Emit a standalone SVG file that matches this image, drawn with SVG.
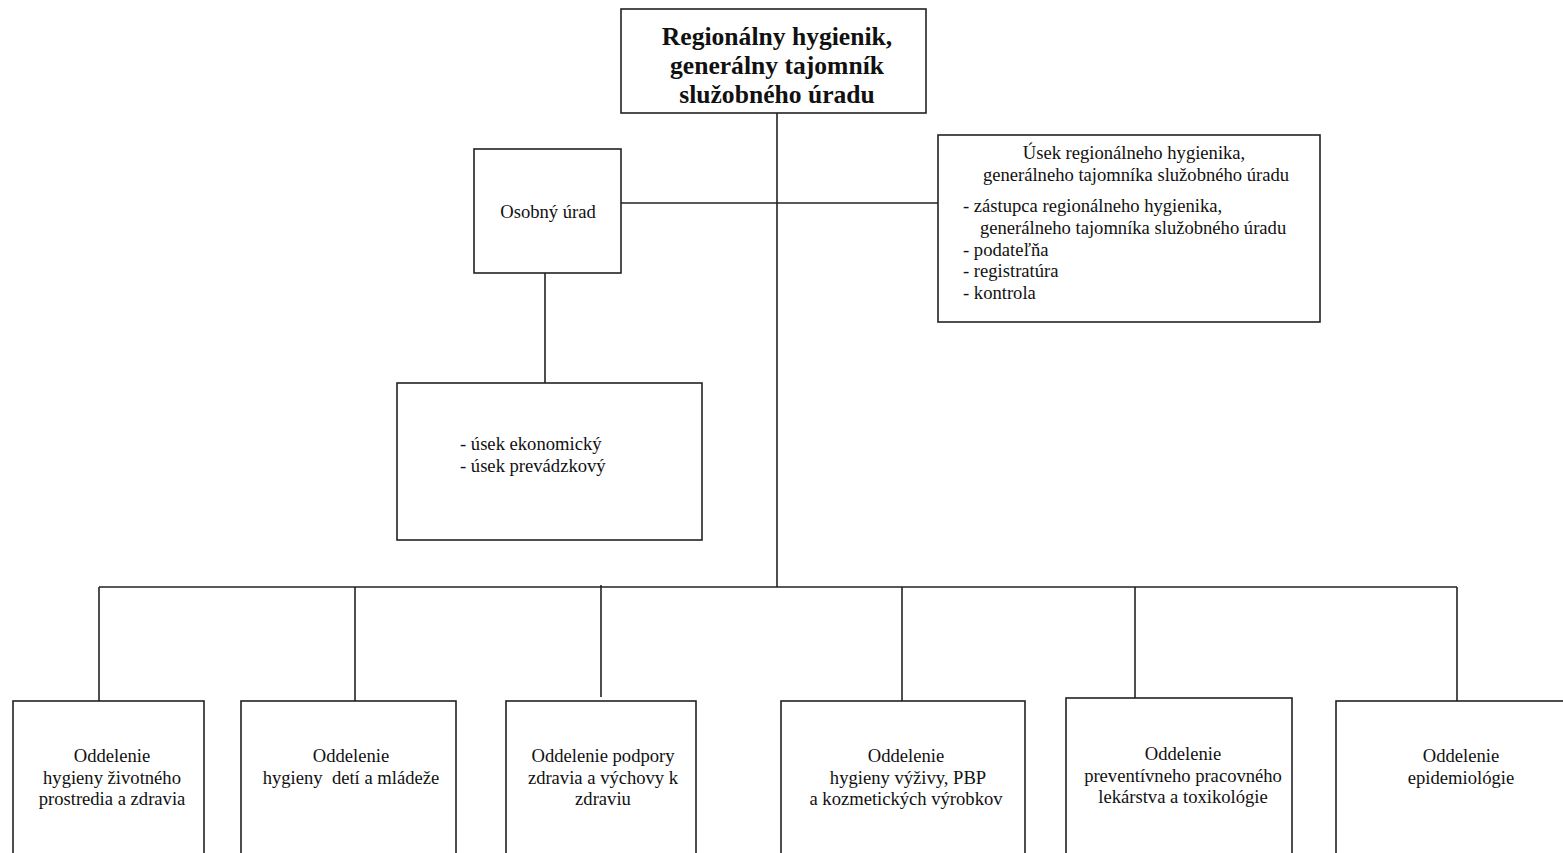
<svg xmlns="http://www.w3.org/2000/svg" width="1563" height="853" viewBox="0 0 1563 853">
<style>
.box{fill:#fff;stroke:#222;stroke-width:1.6}
.ln{fill:none;stroke:#222;stroke-width:1.6}
text{font-family:"Liberation Serif","Times New Roman",serif;font-size:18.6px;fill:#111}
.c{text-anchor:middle}
.h{font-size:25.6px;font-weight:bold}
</style>
<rect width="1563" height="853" fill="#fff"/>
<g id="connectors">
<line class="ln" x1="777" y1="113" x2="777" y2="587"/>
<line class="ln" x1="621" y1="203" x2="938" y2="203"/>
<line class="ln" x1="545" y1="273" x2="545" y2="383"/>
<line class="ln" x1="99" y1="587" x2="1457" y2="587"/>
<line class="ln" x1="99" y1="587" x2="99" y2="701"/>
<line class="ln" x1="355" y1="587" x2="355" y2="701"/>
<line class="ln" x1="601" y1="585" x2="601" y2="697"/>
<line class="ln" x1="902" y1="587" x2="902" y2="701"/>
<line class="ln" x1="1135" y1="587" x2="1135" y2="698"/>
<line class="ln" x1="1457" y1="587" x2="1457" y2="701"/>
</g>
<g id="top">
<rect class="box" x="621" y="9" width="305" height="104"/>
<text class="c h" x="777" y="45">Regionálny hygienik,</text>
<text class="c h" x="777" y="74">generálny tajomník</text>
<text class="c h" x="777" y="103">služobného úradu</text>
</g>
<g id="osobny">
<rect class="box" x="474" y="149" width="147" height="124"/>
<text class="c" x="548" y="218">Osobný úrad</text>
</g>
<g id="usek">
<rect class="box" x="938" y="135" width="382" height="187"/>
<text class="c" x="1134" y="159">Úsek regionálneho hygienika,</text>
<text class="c" x="1136" y="181">generálneho tajomníka služobného úradu</text>
<text x="963" y="212">- zástupca regionálneho hygienika,</text>
<text x="980" y="234">generálneho tajomníka služobného úradu</text>
<text x="963" y="256">- podateľňa</text>
<text x="963" y="277">- registratúra</text>
<text x="963" y="299">- kontrola</text>
</g>
<g id="ekon">
<rect class="box" x="397" y="383" width="305" height="157"/>
<text x="460" y="450">- úsek ekonomický</text>
<text x="460" y="472">- úsek prevádzkový</text>
</g>
<g id="odd1">
<rect class="box" x="13" y="701" width="191" height="160"/>
<text class="c" x="112" y="762">Oddelenie</text>
<text class="c" x="112" y="784">hygieny životného</text>
<text class="c" x="112" y="805">prostredia a zdravia</text>
</g>
<g id="odd2">
<rect class="box" x="241" y="701" width="215" height="160"/>
<text class="c" x="351" y="762">Oddelenie</text>
<text class="c" x="351" y="784" xml:space="preserve">hygieny  detí a mládeže</text>
</g>
<g id="odd3">
<rect class="box" x="506" y="701" width="190" height="160"/>
<text class="c" x="603" y="762">Oddelenie podpory</text>
<text class="c" x="603" y="784">zdravia a výchovy k</text>
<text class="c" x="603" y="805">zdraviu</text>
</g>
<g id="odd4">
<rect class="box" x="781" y="701" width="244" height="160"/>
<text class="c" x="906" y="762">Oddelenie</text>
<text class="c" x="908" y="784">hygieny výživy, PBP</text>
<text class="c" x="906" y="805">a kozmetických výrobkov</text>
</g>
<g id="odd5">
<rect class="box" x="1066" y="698" width="226" height="163"/>
<text class="c" x="1183" y="760">Oddelenie</text>
<text class="c" x="1183" y="782">preventívneho pracovného</text>
<text class="c" x="1183" y="803">lekárstva a toxikológie</text>
</g>
<g id="odd6">
<rect class="box" x="1336" y="701" width="240" height="160"/>
<text class="c" x="1461" y="762">Oddelenie</text>
<text class="c" x="1461" y="784">epidemiológie</text>
</g>
</svg>
